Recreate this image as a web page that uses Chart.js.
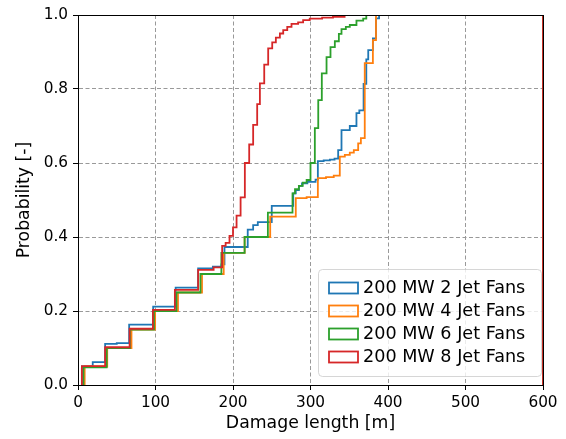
<!DOCTYPE html>
<html>
<head>
<meta charset="utf-8">
<script src="https://cdn.jsdelivr.net/npm/chart.js@4/dist/chart.umd.min.js"></script>
<style>
  html, body { margin: 0; padding: 0; background: #fff; }
  #wrap { width: 566px; height: 439px; }
</style>
</head>
<body>
<div id="wrap"><canvas id="cdf" width="566" height="439"></canvas></div>
<script>
// Cumulative distribution of damage length per jet fan configuration.
// Each series: damage length [m] where the CDF steps, and the probability reached there.
const seriesLabels = ['200 MW 2 Jet Fans', '200 MW 4 Jet Fans', '200 MW 6 Jet Fans', '200 MW 8 Jet Fans'];

const fans2X = [5, 5, 19, 35, 50, 66, 97, 126, 155, 174, 185, 189, 219, 226, 232, 250, 277.7, 281, 285, 289, 296, 306.5, 309.5,
  317, 325, 331, 335.7, 340, 350.7, 359.3, 363, 368.5, 372, 374.5, 380.5, 384.5, 388.5, 600, 600];
const fans2P = [0, 0.05, 0.062, 0.111, 0.113, 0.163, 0.212, 0.263, 0.315, 0.32, 0.326, 0.373, 0.42, 0.432, 0.44, 0.484, 0.518, 0.527, 0.538, 0.545, 0.549, 0.555, 0.605,
  0.607, 0.609, 0.612, 0.635, 0.689, 0.70, 0.735, 0.742, 0.814, 0.88, 0.905, 0.937, 0.991, 1.0, 1.0, 0];

const fans4X = [8.6, 8.6, 37.7, 69, 99.5, 129, 160, 188, 215, 248, 281, 295, 309.5, 320, 330, 337.8, 344.3, 350.7, 355.9, 361.5, 365,
  370, 380.5, 384.5, 600, 600];
const fans4P = [0, 0.05, 0.10, 0.15, 0.20, 0.25, 0.30, 0.357, 0.40, 0.455, 0.505, 0.508, 0.559, 0.562, 0.566, 0.617, 0.622, 0.628, 0.635, 0.653, 0.667,
  0.87, 0.932, 1.0, 1.0, 0];

const fans6X = [7, 7, 37, 67, 98, 127, 158, 185, 215, 245, 276.8, 280, 285, 290, 295, 300, 305.6, 310, 314.6, 320.7, 325.8, 331.4,
  336.6, 340, 345.6, 350.7, 359.3, 368, 372, 600, 600];
const fans6P = [0, 0.048, 0.10, 0.15, 0.20, 0.25, 0.30, 0.357, 0.40, 0.466, 0.518, 0.529, 0.538, 0.547, 0.554, 0.60, 0.694, 0.77, 0.842, 0.886, 0.913, 0.929,
  0.949, 0.962, 0.968, 0.973, 0.985, 0.99, 1.0, 1.0, 0];

const fans8X = [5, 5, 35, 66.6, 96.7, 125, 155, 175, 186, 190.5, 195.5, 200, 204.6, 209.8, 215.3, 220.9, 226, 231.2, 234.7, 240.3,
  245.4, 250.6, 255.3, 260.5, 264.8, 270, 275.5, 284, 290.5, 299, 315, 329, 344, 600, 600];
const fans8P = [0, 0.051, 0.102, 0.152, 0.203, 0.257, 0.311, 0.318, 0.376, 0.384, 0.403, 0.426, 0.458, 0.507, 0.60, 0.65, 0.703, 0.759, 0.815, 0.866,
  0.91, 0.926, 0.939, 0.95, 0.959, 0.968, 0.976, 0.98, 0.986, 0.99, 0.993, 0.995, 1.0, 1.0, 0];

const xTicks = [0, 100, 200, 300, 400, 500, 600];
const yTicks = [0.0, 0.2, 0.4, 0.6, 0.8, 1.0];

const colors = ['#1f77b4', '#ff7f0e', '#2ca02c', '#d62728'];
const FONT = "'DejaVu Sans', 'Liberation Sans', sans-serif";

function toPoints(xs, ps) {
  return xs.map((x, i) => ({ x: x, y: ps[i] }));
}

const allX = [fans2X, fans4X, fans6X, fans8X];
const allP = [fans2P, fans4P, fans6P, fans8P];

// later series drawn on top (lower order = drawn last)
const datasets = seriesLabels.map((label, i) => ({
  label: label,
  data: toPoints(allX[i], allP[i]),
  borderColor: colors[i],
  borderWidth: 1.8,
  pointRadius: 0,
  fill: false,
  stepped: 'before',
  clip: 0,
  order: 3 - i
}));

// top/right spines over the data, like the left/bottom axis borders
const frame = {
  id: 'frame',
  afterDatasetsDraw(chart) {
    const { ctx, chartArea: a } = chart;
    ctx.save();
    ctx.strokeStyle = '#000';
    ctx.lineWidth = 1;
    ctx.strokeRect(Math.round(a.left) + 0.5, Math.round(a.top) + 0.5,
      Math.round(a.right - a.left), Math.round(a.bottom - a.top));
    ctx.restore();
  }
};

// legend box in the lower right corner of the plot
const legendBox = {
  id: 'legendBox',
  afterDraw(chart) {
    const { ctx, chartArea: a } = chart;
    const w = 223, h = 107;
    const x0 = a.right - 2 - w, y0 = a.bottom - 9 - h;
    ctx.save();
    ctx.beginPath();
    ctx.roundRect(x0 + 0.5, y0 + 0.5, w, h, 4);
    ctx.fillStyle = 'rgba(255,255,255,0.8)';
    ctx.fill();
    ctx.strokeStyle = 'rgba(204,204,204,0.8)';
    ctx.lineWidth = 1;
    ctx.stroke();
    ctx.font = '17.6px ' + FONT;
    ctx.textBaseline = 'middle';
    ctx.fillStyle = '#000';
    seriesLabels.forEach((label, i) => {
      const cy = y0 + 19 + i * 23;
      ctx.strokeStyle = colors[i];
      ctx.lineWidth = 1.8;
      ctx.strokeRect(x0 + 11, cy - 5.5, 29, 11);
      ctx.fillText(label, x0 + 45, cy + 0.5);
    });
    ctx.restore();
  }
};

new Chart(document.getElementById('cdf'), {
  type: 'line',
  data: { datasets: datasets },
  options: {
    responsive: false,
    animation: false,
    devicePixelRatio: 1,
    layout: { padding: { left: 0, right: 23, top: 15, bottom: 0 } },
    plugins: { legend: { display: false }, tooltip: { enabled: false } },
    scales: {
      x: {
        type: 'linear',
        min: 0,
        max: 600,
        afterBuildTicks: s => { s.ticks = xTicks.map(v => ({ value: v })); },
        afterFit: s => { s.height = 54; },
        ticks: {
          color: '#000',
          padding: 4,
          maxRotation: 0,
          autoSkip: false,
          font: { family: FONT, size: 15.3 },
          callback: v => String(v)
        },
        grid: { color: '#999', lineWidth: 1, tickLength: 5, tickColor: '#000', tickWidth: 1 },
        border: { display: true, color: '#000', width: 1, dash: [4, 2.5] },
        title: {
          display: true,
          text: 'Damage length [m]',
          color: '#000',
          font: { family: FONT, size: 17.3 },
          padding: { top: 0, bottom: 5 }
        }
      },
      y: {
        min: 0,
        max: 1,
        afterBuildTicks: s => { s.ticks = yTicks.map(v => ({ value: v })); },
        afterFit: s => { s.width = 78; },
        ticks: {
          color: '#000',
          padding: 5,
          font: { family: FONT, size: 15.3 },
          callback: v => Number(v).toFixed(1)
        },
        grid: { color: '#999', lineWidth: 1, tickLength: 5, tickColor: '#000', tickWidth: 1 },
        border: { display: true, color: '#000', width: 1, dash: [4, 2.5] },
        title: {
          display: true,
          text: 'Probability [-]',
          color: '#000',
          font: { family: FONT, size: 17.3 },
          padding: { top: 14, bottom: 0 }
        }
      }
    }
  },
  plugins: [frame, legendBox]
});
</script>
</body>
</html>
